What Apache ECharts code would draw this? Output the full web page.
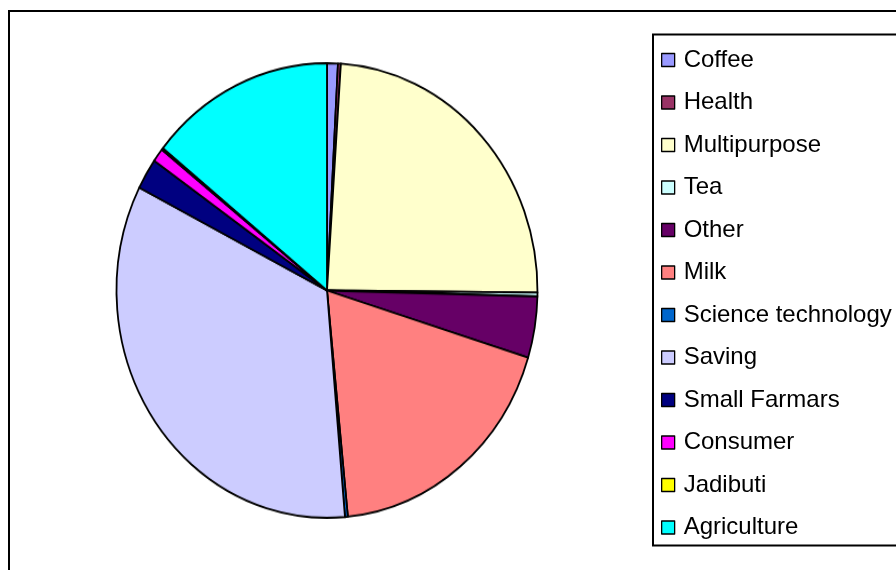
<!DOCTYPE html>
<html>
<head>
<meta charset="utf-8">
<script src="https://cdn.jsdelivr.net/npm/echarts@6/dist/echarts.min.js"></script>
<style>
html,body{margin:0;padding:0;background:#fff;}
#main{position:absolute;left:0;top:0;width:896px;height:570px;}
#pie{position:absolute;left:0;top:0;width:640px;height:570px;transform-origin:327px 290.5px;transform:scale(1,1.08);}
</style>
</head>
<body>
<div id="main"></div>
<div id="pie"></div>
<script>
const categories = ['Coffee','Health','Multipurpose','Tea','Other','Milk','Science technology','Saving','Small Farmars','Consumer','Jadibuti','Agriculture'];
const shares = [0.83, 0.22, 24.08, 0.28, 4.36, 18.64, 0.22, 33.83, 2.19, 0.97, 0.14, 14.22];
const colors = ['#9999FF','#993366','#FFFFCC','#CCFFFF','#660066','#FF8080','#0066CC','#CCCCFF','#000080','#FF00FF','#FFFF00','#00FFFF'];

const data = categories.map((c, i) => ({ name: c, value: shares[i], itemStyle: { color: colors[i] } }));
const font = "'Liberation Sans', Arial, sans-serif";

const main = echarts.init(document.getElementById('main'), null, { renderer: 'canvas' });
main.setOption({
  animation: false,
  backgroundColor: '#fff',
  graphic: [
    { type: 'rect', shape: { x: 9, y: 11, width: 1000, height: 1000 }, style: { fill: 'none', stroke: '#000', lineWidth: 2 }, silent: true },
    { type: 'rect', shape: { x: 653, y: 34.5, width: 400, height: 511 }, style: { fill: 'none', stroke: '#000', lineWidth: 2 }, silent: true }
  ],
  legend: {
    orient: 'vertical',
    left: 661,
    top: 48,
    padding: 0,
    itemWidth: 13,
    itemHeight: 13,
    itemGap: 18.5,
    icon: 'rect',
    selectedMode: false,
    itemStyle: { borderColor: '#000', borderWidth: 1.3 },
    textStyle: { fontFamily: font, fontSize: 24, lineHeight: 24, color: '#000', padding: [0, 0, 0, 4] },
    data: categories
  },
  series: [{
    type: 'pie',
    radius: 0,
    center: [-100, -100],
    silent: true,
    label: { show: false },
    labelLine: { show: false },
    itemStyle: { borderWidth: 0 },
    data: data
  }]
});

const pie = echarts.init(document.getElementById('pie'), null, { renderer: 'canvas' });
pie.setOption({
  animation: false,
  series: [{
    type: 'pie',
    center: [327, 290.5],
    radius: 210.5,
    startAngle: 90,
    clockwise: true,
    silent: true,
    label: { show: false },
    labelLine: { show: false },
    itemStyle: { borderColor: '#000', borderWidth: 1.8 },
    emphasis: { disabled: true },
    data: data
  }]
});
</script>
</body>
</html>
